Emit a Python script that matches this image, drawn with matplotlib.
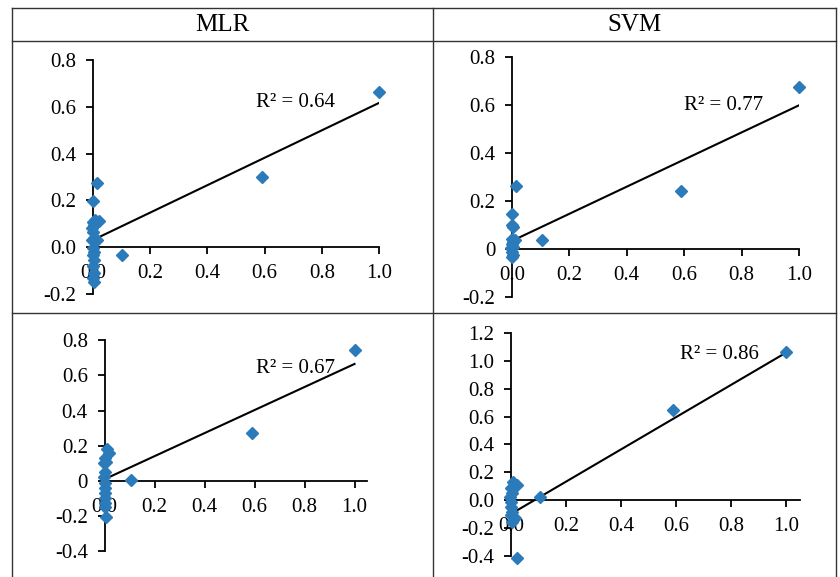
import numpy as np
import matplotlib.pyplot as plt
from matplotlib.lines import Line2D

plt.rcParams['font.family'] = ['Liberation Serif', 'DejaVu Serif']

# MLR, top row
mlr1_x = [1.0, 0.59, 0.10, 0.013, 0.0, 0.008, 0.02, 0.0, 0.005, -0.002, 0.0,
          0.005, -0.002, 0.013, 0.0, 0.005, 0.0, 0.005, 0.0, 0.005, 0.0, 0.005]
mlr1_y = [0.665, 0.30, -0.035, 0.275, 0.198, 0.115, 0.11, 0.108, 0.094, 0.08, 0.065,
          0.037, 0.03, 0.03, -0.006, -0.02, -0.034, -0.056, -0.081, -0.11, -0.134, -0.148]
# SVM, top row
svm1_x = [1.0, 0.59, 0.105, 0.014, 0.0, 0.0, 0.005, 0.0, 0.01, 0.005, 0.0,
          0.005, -0.002, 0.0, 0.005, 0.0]
svm1_y = [0.675, 0.245, 0.04, 0.264, 0.148, 0.102, 0.092, 0.044, 0.038, 0.031, 0.024,
          0.01, 0.004, -0.01, -0.024, -0.031]
# MLR, bottom row
mlr2_x = [1.0, 0.59, 0.105, 0.011, 0.016, 0.0, 0.006, -0.002, 0.0, -0.002, 0.003,
          0.0, 0.003, 0.0, 0.003, 0.0, 0.005]
mlr2_y = [0.745, 0.272, 0.008, 0.18, 0.161, 0.129, 0.11, 0.10, 0.053, 0.024, -0.013,
          -0.041, -0.07, -0.098, -0.127, -0.149, -0.204]
# SVM, bottom row
svm2_x = [1.0, 0.59, 0.105, 0.008, 0.02, 0.0, 0.005, -0.002, 0.0, 0.0, 0.005,
          0.0, 0.013, 0.005, 0.02]
svm2_y = [1.065, 0.647, 0.024, 0.13, 0.108, 0.084, 0.048, 0.024, -0.012, -0.048, -0.084,
          -0.108, -0.132, -0.156, -0.42]

# trend lines (intercept, slope) and R2 labels
trend_mlr1 = (0.03, 0.587)
trend_svm1 = (0.035, 0.565)
trend_mlr2 = (0.01, 0.655)
trend_svm2 = (-0.1, 1.16)
r2_labels = ['R² = 0.64', 'R² = 0.77', 'R² = 0.67', 'R² = 0.86']

x_ticks = [0.0, 0.2, 0.4, 0.6, 0.8, 1.0]
x_ticklabels = ['0.0', '0.2', '0.4', '0.6', '0.8', '1.0']
y_ticks_top = [-0.2, 0.0, 0.2, 0.4, 0.6, 0.8]
y_labels_mlr1 = ['-0.2', '0.0', '0.2', '0.4', '0.6', '0.8']
y_labels_svm1 = ['-0.2', '0', '0.2', '0.4', '0.6', '0.8']
y_ticks_mlr2 = [-0.4, -0.2, 0.0, 0.2, 0.4, 0.6, 0.8]
y_labels_mlr2 = ['-0.4', '-0.2', '0', '0.2', '0.4', '0.6', '0.8']
y_ticks_svm2 = [-0.4, -0.2, 0.0, 0.2, 0.4, 0.6, 0.8, 1.0, 1.2]
y_labels_svm2 = ['-0.4', '-0.2', '0.0', '0.2', '0.4', '0.6', '0.8', '1.0', '1.2']

headers = ['MLR', 'SVM']

W, H = 840, 577
fig = plt.figure(figsize=(W / 100, H / 100), dpi=100)

def px_axes(left, right, top, bottom):
    return fig.add_axes([left / W, 1 - bottom / H, (right - left) / W, (bottom - top) / H])

# pixel boxes (left, right, top, bottom), limits, r2 text position
panels = [
    (mlr1_x, mlr1_y, trend_mlr1, (93, 379, 60.2, 293.7), (0, 1.0), (-0.2, 0.8),
     y_ticks_top, y_labels_mlr1, (0.57, 0.62)),
    (svm1_x, svm1_y, trend_svm1, (512, 799, 57.3, 297.3), (0, 1.0), (-0.2, 0.8),
     y_ticks_top, y_labels_svm1, (0.60, 0.60)),
    (mlr2_x, mlr2_y, trend_mlr2, (104.5, 367, 340.2, 551.4), (0, 1.05), (-0.4, 0.8),
     y_ticks_mlr2, y_labels_mlr2, (0.606, 0.64)),
    (svm2_x, svm2_y, trend_svm2, (511, 799.75, 333.2, 555.6), (0, 1.05), (-0.4, 1.2),
     y_ticks_svm2, y_labels_svm2, (0.615, 1.05)),
]

blue = '#2b7bba'
for i, (xs, ys, tr, box, xl, yl, yt, ytl, r2pos) in enumerate(panels):
    ax = px_axes(*box)
    ax.set_xlim(*xl)
    ax.set_ylim(*yl)
    ax.patch.set_alpha(0)
    for s in ['top', 'right']:
        ax.spines[s].set_visible(False)
    ax.spines['bottom'].set_position(('data', 0))
    ax.spines['left'].set_linewidth(1.3)
    ax.spines['bottom'].set_linewidth(1.3)
    ax.set_xticks(x_ticks)
    ax.set_xticklabels(x_ticklabels)
    ax.set_yticks(yt)
    ax.set_yticklabels(ytl)
    ax.tick_params(direction='out', length=5, width=1.3, labelsize=15, pad=7)
    ax.plot(xs, ys, linestyle='none', marker='D', markersize=6, color=blue,
            clip_on=False, zorder=3)
    lx = np.array([0.0, 1.0])
    ax.plot(lx, tr[0] + tr[1] * lx, color='black', linewidth=1.5, zorder=2)
    ax.text(r2pos[0], r2pos[1], r2_labels[i], fontsize=15, va='center', ha='left')

# table grid
lc = '#333333'
for x in [12, 433, 836]:
    fig.add_artist(Line2D([x / W, x / W], [1 - 8 / H, 0], color=lc, linewidth=1))
for y in [8, 41, 313]:
    fig.add_artist(Line2D([12 / W, 836 / W], [1 - y / H, 1 - y / H], color=lc, linewidth=1))
fig.text(222.5 / W, 1 - 25 / H, headers[0], fontsize=18, ha='center', va='center')
fig.text(634.5 / W, 1 - 25 / H, headers[1], fontsize=18, ha='center', va='center')

fig.savefig('out.png', dpi=100)
